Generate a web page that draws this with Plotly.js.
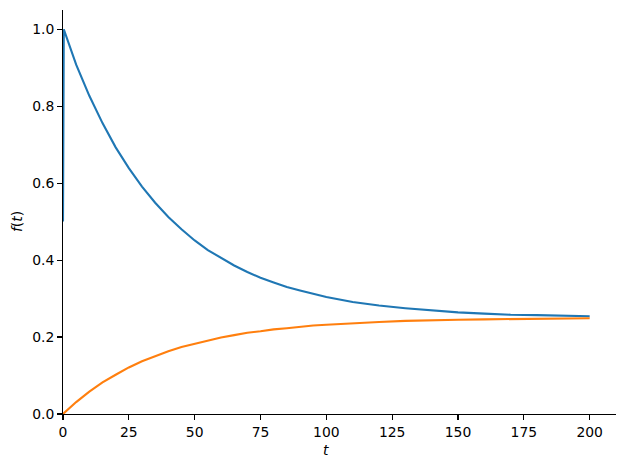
<!DOCTYPE html>
<html>
<head>
<meta charset="utf-8">
<script src="https://cdn.plot.ly/plotly-3.0.1.min.js"></script>
<style>html,body{margin:0;padding:0;background:#fff;}#chart{width:626px;height:467px;}</style>
</head>
<body>
<div id="chart"></div>
<script>
const tBlue = [0, 0.3, 5, 10, 15, 20, 25, 30, 35, 40, 45, 50, 55, 60, 65, 70, 75, 80, 85, 90, 95, 100, 110, 120, 130, 140, 150, 160, 170, 180, 190, 200];
const blueValues = [0.5, 1.0, 0.908, 0.827, 0.756, 0.693, 0.639, 0.591, 0.549, 0.512, 0.480, 0.451, 0.426, 0.405, 0.386, 0.369, 0.354, 0.342, 0.330, 0.321, 0.312, 0.304, 0.291, 0.282, 0.275, 0.269, 0.264, 0.261, 0.258, 0.257, 0.255, 0.254];
const tOrange = [0, 5, 10, 15, 20, 25, 30, 35, 40, 45, 50, 55, 60, 65, 70, 75, 80, 85, 90, 95, 100, 110, 120, 130, 140, 150, 160, 170, 180, 190, 200];
const orangeValues = [0, 0.031, 0.058, 0.082, 0.102, 0.121, 0.137, 0.151, 0.163, 0.174, 0.183, 0.191, 0.199, 0.205, 0.211, 0.215, 0.220, 0.223, 0.227, 0.230, 0.232, 0.236, 0.239, 0.242, 0.244, 0.245, 0.246, 0.247, 0.248, 0.248, 0.249];
const xTicks = [0, 25, 50, 75, 100, 125, 150, 175, 200];
const yTicks = [0, 0.2, 0.4, 0.6, 0.8, 1.0];
const yTickLabels = ["0.0", "0.2", "0.4", "0.6", "0.8", "1.0"];

const traces = [
  {x: tBlue, y: blueValues, mode: 'lines', line: {color: '#1f77b4', width: 2.1}, showlegend: false, hoverinfo: 'skip'},
  {x: tOrange, y: orangeValues, mode: 'lines', line: {color: '#ff7f0e', width: 2.1}, showlegend: false, hoverinfo: 'skip'}
];

const tickFont = {family: 'DejaVu Sans', size: 13.9, color: '#000'};
const layout = {
  width: 626, height: 467,
  margin: {l: 63, r: 10, t: 10, b: 53},
  paper_bgcolor: '#fff', plot_bgcolor: '#fff',
  showlegend: false,
  xaxis: {
    range: [0, 210], tickvals: xTicks, ticktext: xTicks.map(String),
    showgrid: false, zeroline: false, showline: true, linecolor: '#000', linewidth: 1.1,
    ticks: 'outside', ticklen: 4.9, tickwidth: 1.1, tickcolor: '#000',
    tickfont: tickFont, mirror: false
  },
  yaxis: {
    range: [0, 1.05], tickvals: yTicks, ticktext: yTickLabels,
    showgrid: false, zeroline: false, showline: true, linecolor: '#000', linewidth: 1.1,
    ticks: 'outside', ticklen: 4.9, tickwidth: 1.1, tickcolor: '#000',
    tickfont: tickFont, mirror: false
  },
  annotations: [
    {text: '<i>t</i>', xref: 'paper', yref: 'paper', x: 0.475, y: 0, yshift: -36, xanchor: 'center', yanchor: 'middle', showarrow: false, font: {family: 'DejaVu Sans', size: 13.9, color: '#000'}},
    {text: '<i>f</i>(<i>t</i>)', xref: 'paper', yref: 'paper', x: 0, xshift: -46, y: 0.475, textangle: -90, xanchor: 'center', yanchor: 'middle', showarrow: false, font: {family: 'DejaVu Sans', size: 13.9, color: '#000'}}
  ]
};

Plotly.newPlot('chart', traces, layout, {staticPlot: true, displayModeBar: false});
</script>
</body>
</html>
